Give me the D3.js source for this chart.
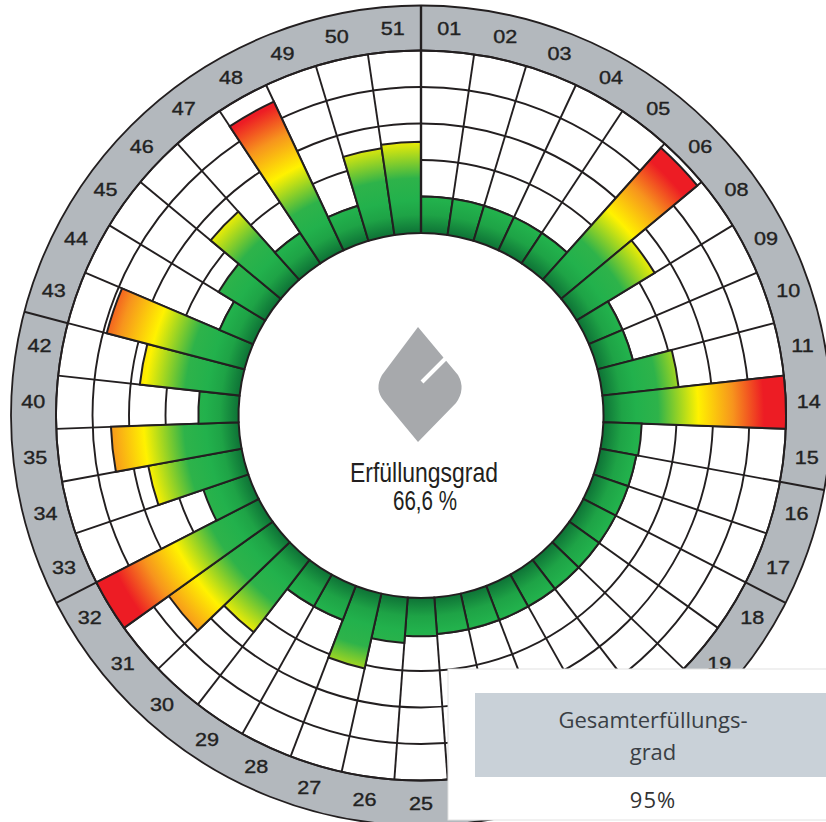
<!DOCTYPE html>
<html>
<head>
<meta charset="utf-8">
<script src="https://d3js.org/d3.v7.min.js"></script>
<style>
  html, body { margin: 0; padding: 0; background: #fff; overflow: hidden; }
  svg { display: block; }
</style>
</head>
<body>
<div id="chart"></div>
<script>
'use strict';

// segment labels, clockwise from the top
var labels = ['01','02','03','04','05','06','08','09','10','11','14','15','16','17','18','19',
              '20','21','22','23','24','25','26','27','28','29','30','31','32','33','34','35',
              '40','42','43','44','45','46','47','48','49','50','51'];
// bar length per segment, 0..100 (outer grid ring = 100)
var values = [20,20,20,20,20,97,50,20,20,42,100,21,20,20,20,20,
              20,20,20,20,20,21,25,42,20,20,50,70,100,26,52,70,
              22,55,78,20,30,50,20,90,20,48,50];
// grid rings
var ringTicks = [20, 40, 60, 80, 100];
// first segment of each group (separator in the label band)
var groupStarts = ['01', '16', '18', '33', '43'];

var centerTitle = 'Erfüllungsgrad';
var centerValue = '66,6 %';
var totalTitle = ['Gesamterfüllungs-', 'grad'];
var totalValue = '95%';

// colour ramp along the bar (value -> colour)
var rampAt = [0, 10, 18, 30, 52, 71, 88, 100];
var rampColors = ['#0e7236', '#1ea346', '#22b14c', '#2eb34a', '#fff200', '#f7941d', '#ed1c24', '#ed1c24'];

var width = 826,
    height = 822,
    cx = 421,
    cy = 415.5,
    bandOuter = 410,
    labelRadius = 388,
    ink = '#231f20',
    boxX = 448,
    boxY = 669;

var svg = d3.select('#chart')
    .append('svg')
    .attr('width', width)
    .attr('height', height);

var r = d3.scaleLinear().domain([0, 100]).range([182.5, 365]);
var angle = d3.scaleBand().domain(labels).range([0, 2 * Math.PI]).padding(0);
var gradR = r(100) + 6;

// gradient along the radius
var grad = svg.append('defs')
    .append('radialGradient')
    .attr('id', 'barGrad')
    .attr('gradientUnits', 'userSpaceOnUse')
    .attr('cx', 0).attr('cy', 0).attr('fx', 0).attr('fy', 0)
    .attr('r', gradR);
grad.append('stop').attr('offset', 0).attr('stop-color', rampColors[0]);
rampAt.forEach(function (v, i) {
    grad.append('stop')
        .attr('offset', r(v) / gradR)
        .attr('stop-color', rampColors[i]);
});
grad.append('stop').attr('offset', 1).attr('stop-color', rampColors[rampColors.length - 1]);

var g = svg.append('g').attr('transform', 'translate(' + cx + ',' + cy + ')');

// label band
g.append('path')
    .attr('d', d3.arc().innerRadius(r(100)).outerRadius(bandOuter).startAngle(0).endAngle(2 * Math.PI)())
    .attr('fill', '#b3b8bd')
    .attr('stroke', ink)
    .attr('stroke-width', 1.8);

// grid rings
g.selectAll('circle.ring')
    .data(ringTicks)
    .enter()
    .append('circle')
    .attr('class', 'ring')
    .attr('r', function (d) { return r(d); })
    .attr('fill', 'none')
    .attr('stroke', ink)
    .attr('stroke-width', 1.9);

function polar(rad, a) {
    return [Math.sin(a) * rad, -Math.cos(a) * rad];
}

// radial grid lines
g.selectAll('line.spoke')
    .data(labels)
    .enter()
    .append('line')
    .attr('class', 'spoke')
    .attr('x1', function (d) { return polar(r(0), angle(d))[0]; })
    .attr('y1', function (d) { return polar(r(0), angle(d))[1]; })
    .attr('x2', function (d) { return polar(r(100), angle(d))[0]; })
    .attr('y2', function (d) { return polar(r(100), angle(d))[1]; })
    .attr('stroke', ink)
    .attr('stroke-width', 1.9);

// bars
var barArc = d3.arc()
    .innerRadius(r(0))
    .outerRadius(function (d) { return r(d.value); })
    .startAngle(function (d) { return angle(d.label); })
    .endAngle(function (d) { return angle(d.label) + angle.bandwidth(); });

g.selectAll('path.bar')
    .data(labels.map(function (l, i) { return { label: l, value: values[i] }; }))
    .enter()
    .append('path')
    .attr('class', 'bar')
    .attr('d', barArc)
    .attr('fill', 'url(#barGrad)')
    .attr('stroke', ink)
    .attr('stroke-width', 2)
    .attr('stroke-linejoin', 'miter');

// group separators
g.selectAll('line.sep')
    .data(groupStarts)
    .enter()
    .append('line')
    .attr('class', 'sep')
    .attr('x1', function (d, i) { return polar(i === 0 ? r(0) : r(100), angle(d))[0]; })
    .attr('y1', function (d, i) { return polar(i === 0 ? r(0) : r(100), angle(d))[1]; })
    .attr('x2', function (d) { return polar(bandOuter, angle(d))[0]; })
    .attr('y2', function (d) { return polar(bandOuter, angle(d))[1]; })
    .attr('stroke', ink)
    .attr('stroke-width', function (d, i) { return i === 0 ? 2.4 : 2; });

// segment labels (the ones under the result box are not visible)
function labelPos(d) {
    return polar(labelRadius, angle(d) + angle.bandwidth() / 2);
}
g.selectAll('text.lbl')
    .data(labels.filter(function (d) {
        var p = labelPos(d);
        return !(p[0] + cx > boxX - 4 && p[1] + cy > boxY - 4);
    }))
    .enter()
    .append('text')
    .attr('class', 'lbl')
    .attr('transform', function (d) {
        var p = labelPos(d);
        return 'translate(' + p[0] + ',' + p[1] + ') scale(1.2,1)';
    })
    .attr('text-anchor', 'middle')
    .attr('dy', '0.36em')
    .attr('font-family', 'Liberation Sans, Arial, sans-serif')
    .attr('font-size', 18)
    .attr('fill', '#222')
    .attr('stroke', '#222')
    .attr('stroke-width', 0.35)
    .text(function (d) { return d; });

// centre logo
var logo = svg.append('g').attr('transform', 'translate(420,385)');
logo.append('path')
    .attr('d', 'M -2,-58 L -38,-10 Q -46,4 -36,16 L -2,57 L 36,18 Q 46,4 38,-10 Z')
    .attr('fill', '#a7a9ac');
logo.append('line')
    .attr('x1', 2).attr('y1', -3)
    .attr('x2', 30).attr('y2', -31)
    .attr('stroke', '#fff')
    .attr('stroke-width', 4);

// centre text
svg.append('text')
    .attr('x', 424).attr('y', 482)
    .attr('text-anchor', 'middle')
    .attr('font-family', 'Liberation Sans, Arial, sans-serif')
    .attr('font-size', 28)
    .attr('textLength', 148)
    .attr('lengthAdjust', 'spacingAndGlyphs')
    .attr('fill', ink)
    .text(centerTitle);
svg.append('text')
    .attr('x', 425).attr('y', 510)
    .attr('text-anchor', 'middle')
    .attr('font-family', 'Liberation Sans, Arial, sans-serif')
    .attr('font-size', 28)
    .attr('textLength', 64)
    .attr('lengthAdjust', 'spacingAndGlyphs')
    .attr('fill', ink)
    .text(centerValue);

// overall result box
var box = svg.append('g');
box.append('rect')
    .attr('x', boxX).attr('y', boxY)
    .attr('width', 400).attr('height', 151)
    .attr('fill', '#fff')
    .attr('stroke', '#e2e2e2')
    .attr('stroke-width', 1);
box.append('rect')
    .attr('x', 475).attr('y', 693)
    .attr('width', 360).attr('height', 84)
    .attr('fill', '#c9d1d8');
box.selectAll('text.title')
    .data(totalTitle)
    .enter()
    .append('text')
    .attr('class', 'title')
    .attr('x', 653)
    .attr('y', function (d, i) { return 728 + i * 32; })
    .attr('text-anchor', 'middle')
    .attr('font-family', 'Open Sans, sans-serif')
    .attr('font-size', 22)
    .attr('fill', '#3a3f45')
    .text(function (d) { return d; });
box.append('text')
    .attr('x', 653).attr('y', 808)
    .attr('text-anchor', 'middle')
    .attr('font-family', 'Open Sans, sans-serif')
    .attr('font-size', 22)
    .attr('letter-spacing', 1)
    .attr('fill', '#333')
    .text(totalValue);
</script>
</body>
</html>
